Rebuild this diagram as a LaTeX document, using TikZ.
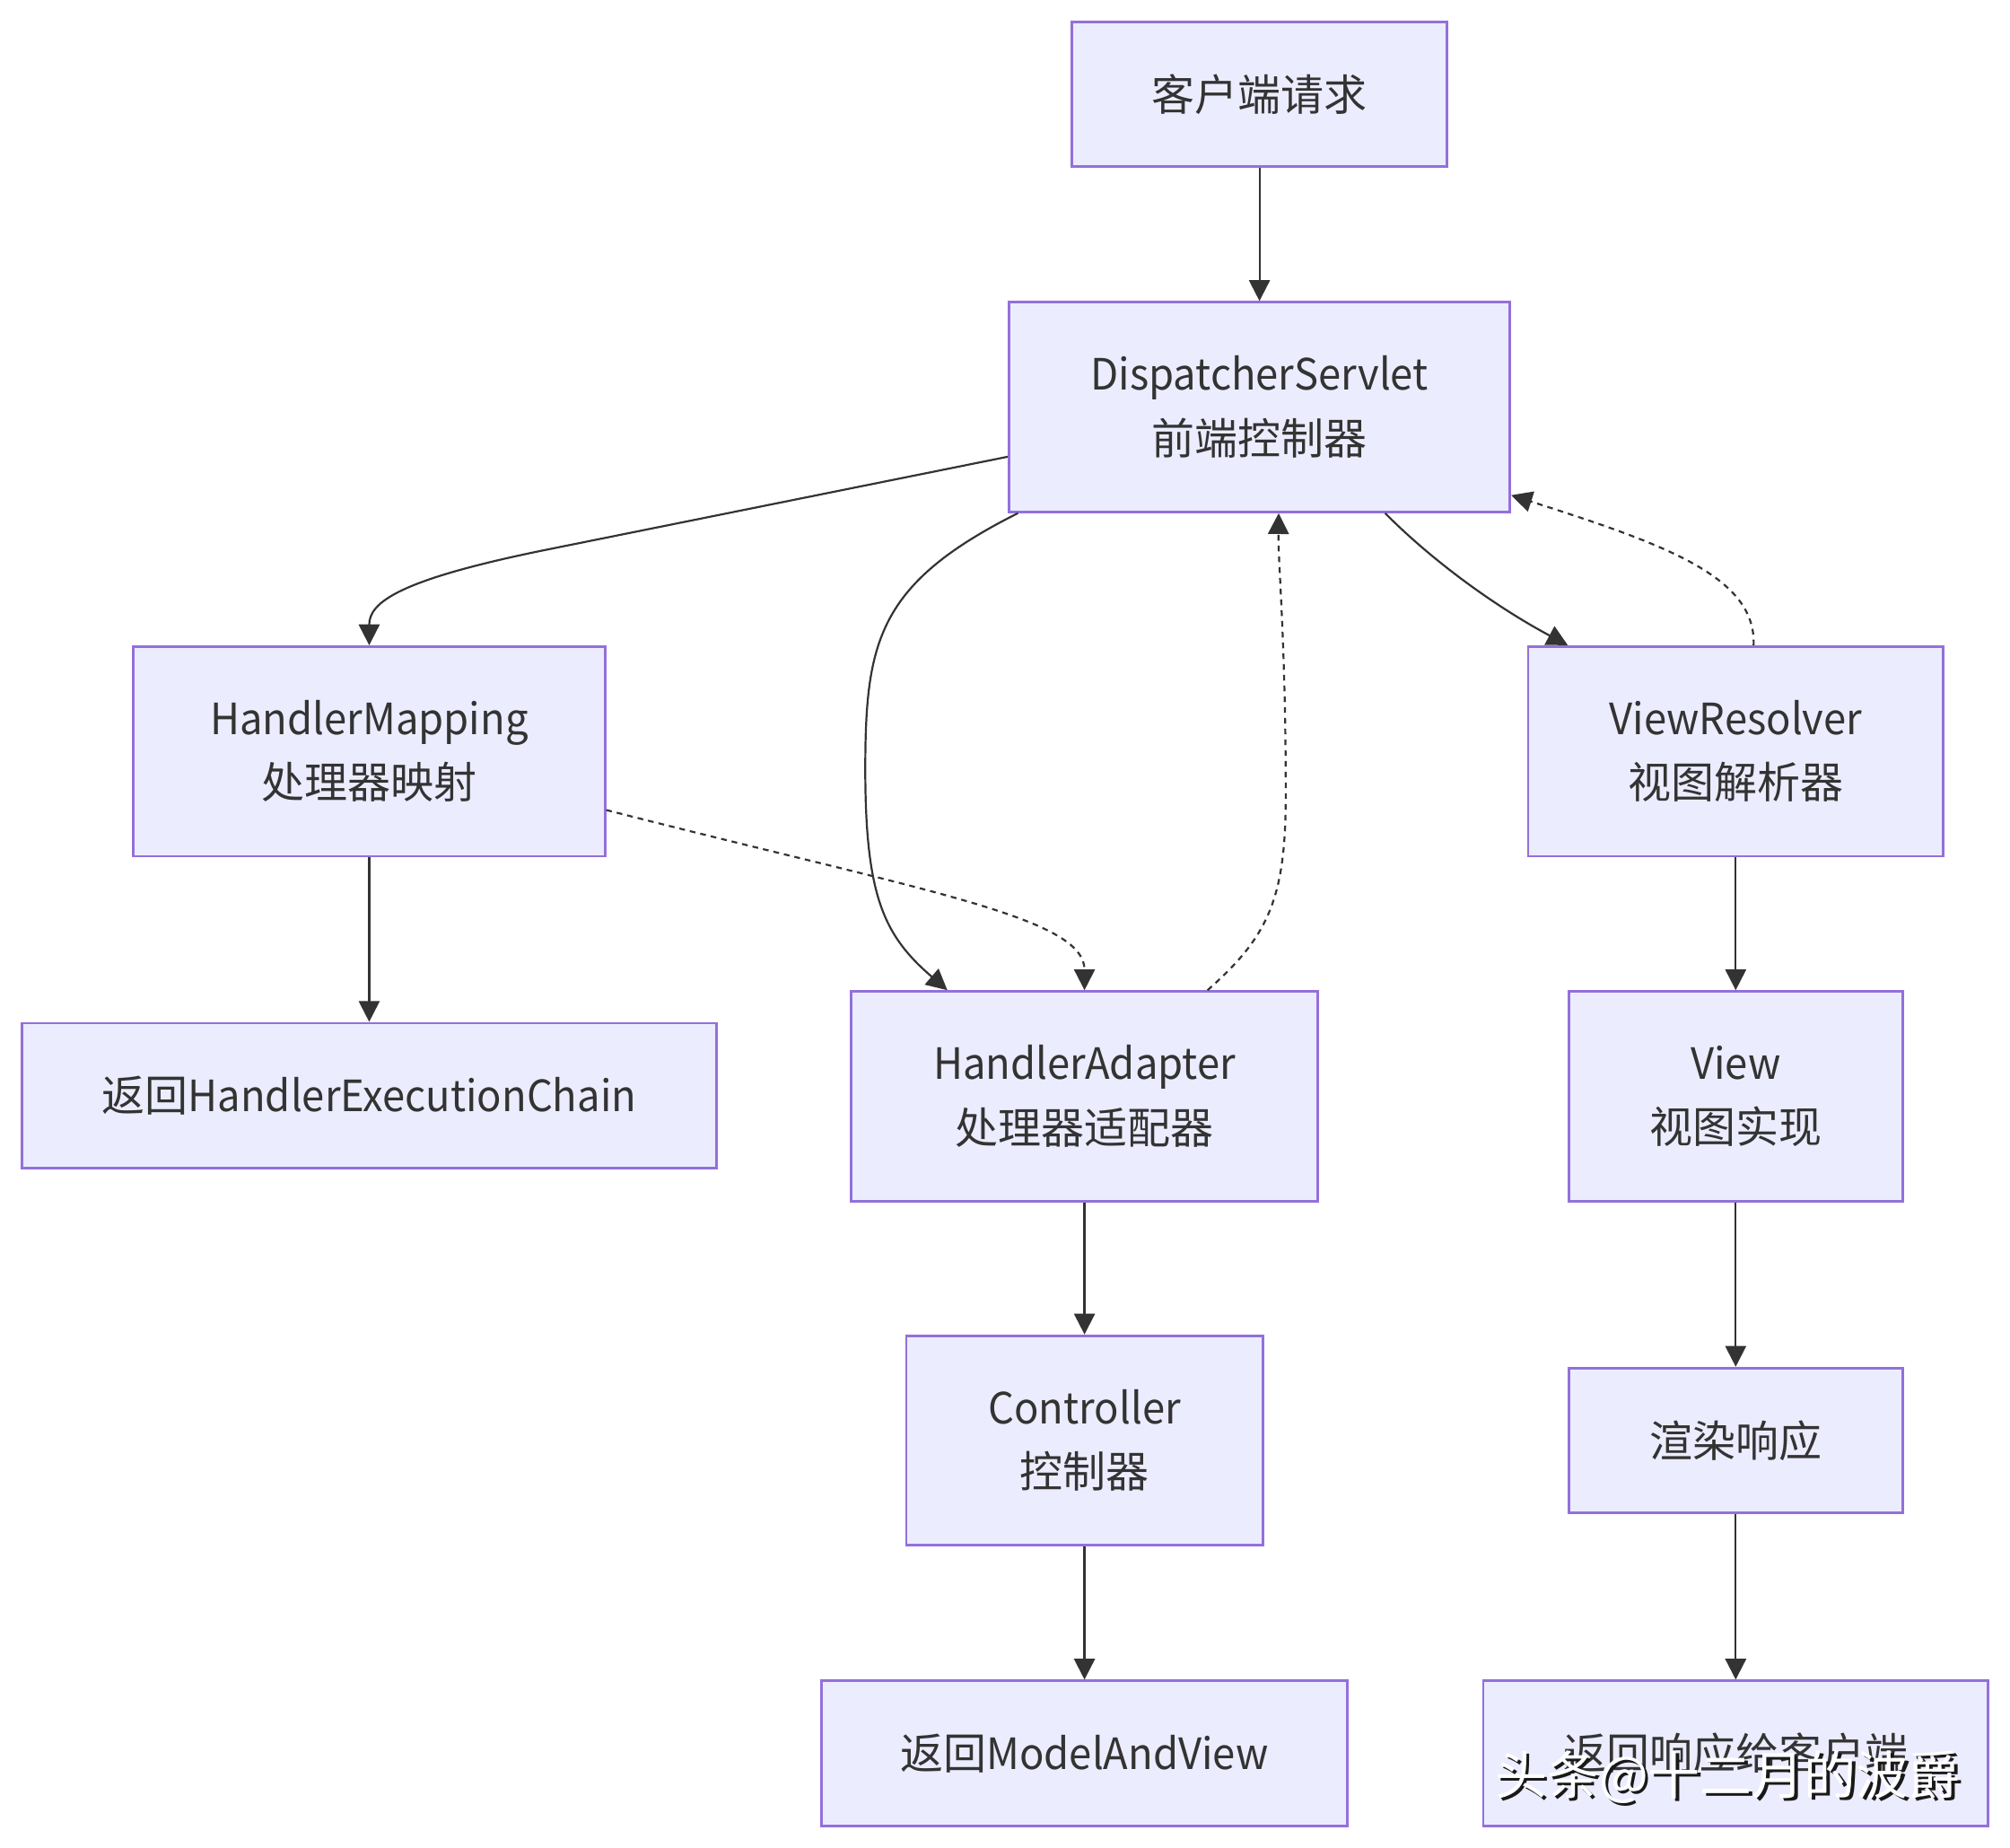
\documentclass[tikz,border=0pt]{standalone}
\usepackage{fontspec}
\setmainfont{Noto Sans CJK SC}
\newfontfamily\latfont[FakeStretch=0.945]{Noto Sans CJK SC}
\usetikzlibrary{arrows.meta,calc}
\definecolor{mmfill}{HTML}{ECECFF}
\definecolor{mmborder}{HTML}{9370DB}
\definecolor{mmline}{HTML}{333333}
\definecolor{mmtext}{HTML}{333333}

\begin{document}
\begin{tikzpicture}[x=0.35714pt,y=-0.35714pt]
	\tikzstyle{every node}+=[inner sep=0pt, font=\fontsize{12}{17.86}\selectfont, text=mmtext]
	\tikzstyle{flowbox}=[draw=mmborder, fill=mmfill, line width=0.7pt, align=center, minimum height=40.4pt]
	\tikzstyle{tallbox}=[flowbox, minimum height=58.4pt]
	\tikzstyle{flow}=[draw=mmline, line width=0.55pt, -{Triangle[length=5.8pt,width=5.8pt]}]
	\tikzstyle{back}=[flow, dash pattern=on 1.6pt off 1.4pt]
	\useasboundingbox (0,0) rectangle (1568,1440.6);
	\node [flowbox, minimum width=104.6pt] (client) at (982.5,73.5) {客户端请求};
	\node [tallbox, minimum width=139.6pt] (ds) at (982.5,317.5) {{\latfont DispatcherServlet}\\前端控制器};
	\node [tallbox, minimum width=131.4pt] (hm) at (288,586) {{\latfont HandlerMapping}\\处理器映射};
	\node [tallbox, minimum width=115.7pt] (vr) at (1354,586) {{\latfont ViewResolver}\\视图解析器};
	\node [flowbox, minimum width=193.6pt] (hec) at (288,854.5) {返回{\latfont HandlerExecutionChain}};
	\node [tallbox, minimum width=130pt] (ha) at (846,855) {{\latfont HandlerAdapter}\\处理器适配器};
	\node [tallbox, minimum width=92.9pt] (view) at (1354,855) {{\latfont View}\\视图实现};
	\node [tallbox, minimum width=99.3pt] (ctrl) at (846,1123.5) {{\latfont Controller}\\控制器};
	\node [flowbox, minimum width=92.9pt] (render) at (1354,1123.5) {渲染响应};
	\node [flowbox, minimum width=146.4pt] (mav) at (846,1367.5) {返回{\latfont ModelAndView}};
	\node [flowbox, minimum width=140.7pt] (resp) at (1354,1367.5) {返回响应给客户端};
	\draw [flow] (client) -- (ds);
	\draw [flow] ($(ds.south west)+(0,-44)$) -- (430,428) .. controls (310,452) and (288,470) .. (hm.north);
	\draw [flow] ($(ds.south west)+(8,0)$) .. controls (685,455) and (675,500) .. (675,600) .. controls (675,700) and (690,730) .. ($(ha.north west)+(76,0)$);
	\draw [back] ($(ha.north)+(96,0)$) .. controls (990,730) and (1003,700) .. (1003,620) .. controls (1003,500) and (997,440) .. ($(ds.south)+(15,0)$);
	\draw [flow] ($(ds.south)+(98,0)$) .. controls (1120,440) and (1170,475) .. ($(vr.north west)+(32,0)$);
	\draw [back] ($(vr.north)+(14,0)$) .. controls (1370,450) and (1300,425) .. ($(ds.south east)+(0,-14)$);
	\draw [back] ($(hm.south east)+(0,-37)$) .. controls (720,695) and (846,715) .. (ha.north);
	\draw [flow] (hm) -- (hec);
	\draw [flow] (vr) -- (view);
	\draw [flow] (ha) -- (ctrl);
	\draw [flow] (ctrl) -- (mav);
	\draw [flow] (view) -- (render);
	\draw [flow] (render) -- (resp);
	\node [text=black!90, font=\fontsize{14.5}{16}\selectfont] (wmshadow) at (1350,1388) {头条@十二月的波爵};
	\node [text=white, font=\fontsize{14.5}{16}\selectfont] (wm) at ($(wmshadow.center)+(-2.2,-2.2)$) {头条@十二月的波爵};
\end{tikzpicture}
\end{document}
